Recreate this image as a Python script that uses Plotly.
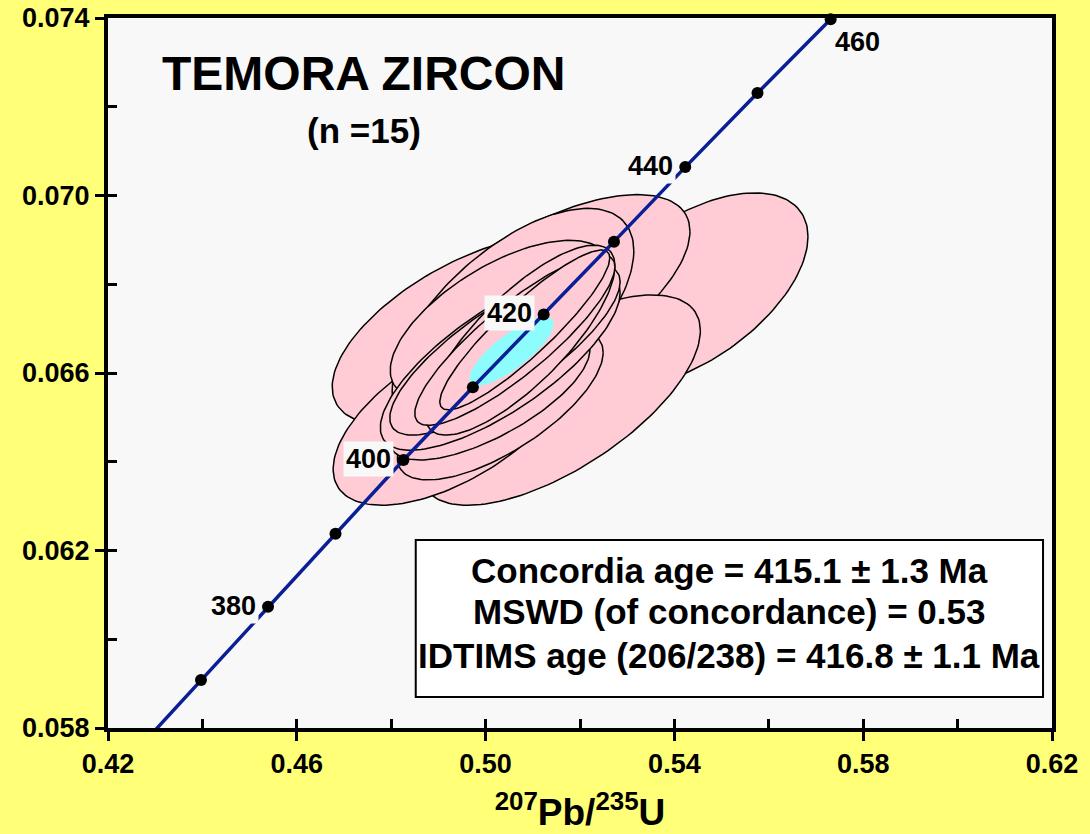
import numpy as np
import plotly.graph_objects as go

# ---------------- data ----------------
# concordia curve vertices (age in Ma, 207Pb/235U, 206Pb/238U)
curve_age = [360, 370, 380, 390, 400, 410, 420, 430, 440, 450, 460]
curve_x = [0.4255, 0.4397, 0.4539, 0.4682, 0.4826, 0.4973, 0.5123, 0.5272, 0.5423, 0.5576, 0.5731]
curve_y = [0.05743, 0.05908, 0.06073, 0.06238, 0.06404, 0.06568, 0.06732, 0.06896, 0.07064, 0.07231, 0.07397]
# age marks drawn as dots (370..460)
mark_age = [370, 380, 390, 400, 410, 420, 430, 440, 450, 460]
labeled_ages = [380, 400, 420, 440, 460]

# error ellipses (2 sigma): centre, half-extent in x and y, correlation (drawing order)
ell_x = [0.5433, 0.5115, 0.4967, 0.5158, 0.4935, 0.5058, 0.5031, 0.5020, 0.5031, 0.5009, 0.5031, 0.5041, 0.5073, 0.5062, 0.5083]
ell_y = [0.06787, 0.06765, 0.06697, 0.06539, 0.06505, 0.06719, 0.06719, 0.06573, 0.06528, 0.06550, 0.06629, 0.06652, 0.06674, 0.06674, 0.06697]
ell_sx = [0.0250, 0.0318, 0.0292, 0.0297, 0.0258, 0.0256, 0.0233, 0.0212, 0.0218, 0.0212, 0.0254, 0.0244, 0.0201, 0.0212, 0.0180]
ell_sy = [0.00219, 0.00237, 0.00214, 0.00237, 0.00203, 0.00252, 0.00180, 0.00180, 0.00169, 0.00146, 0.00203, 0.00192, 0.00214, 0.00192, 0.00180]
ell_rho = [0.55, 0.65, 0.60, 0.66, 0.60, 0.62, 0.63, 0.70, 0.70, 0.70, 0.75, 0.80, 0.78, 0.86, 0.90]

# concordia age ellipse
conc_x, conc_y, conc_sx, conc_sy, conc_rho = 0.5055, 0.06649, 0.0089, 0.00077, 0.80

x_ticks = [0.42, 0.46, 0.50, 0.54, 0.58, 0.62]
y_ticks = [0.058, 0.062, 0.066, 0.070, 0.074]

title_text = "TEMORA ZIRCON"
subtitle_text = "(n =15)"
box_lines = ["Concordia age = 415.1 ± 1.3 Ma",
             "MSWD (of concordance) = 0.53",
             "IDTIMS age (206/238) = 416.8 ± 1.1 Ma"]

# ---------------- styles ----------------
YELLOW = "#FFFF78"
PLOTBG = "#F8F8F8"
PINK = "#FFCCD6"
CYAN = "#8CFCFC"
NAVY = "#0A1E96"
FONT = "Arial"


def ellipse(cx, cy, sx, sy, rho, n=160):
    t = np.linspace(0, 2 * np.pi, n)
    xs = cx + sx * np.cos(t)
    ys = cy + sy * (rho * np.cos(t) + np.sqrt(1 - rho ** 2) * np.sin(t))
    return xs, ys


fig = go.Figure()

for cx, cy, sx, sy, r in zip(ell_x, ell_y, ell_sx, ell_sy, ell_rho):
    xs, ys = ellipse(cx, cy, sx, sy, r)
    fig.add_trace(go.Scatter(x=xs, y=ys, mode="lines", fill="toself",
                             fillcolor=PINK, line=dict(color="black", width=1.5),
                             hoverinfo="skip", showlegend=False))

xs, ys = ellipse(conc_x, conc_y, conc_sx, conc_sy, conc_rho)
fig.add_trace(go.Scatter(x=xs, y=ys, mode="lines", fill="toself",
                         fillcolor=CYAN, line=dict(color=CYAN, width=0.5),
                         hoverinfo="skip", showlegend=False))

fig.add_trace(go.Scatter(x=curve_x, y=curve_y, mode="lines",
                         line=dict(color=NAVY, width=3.5), showlegend=False,
                         hoverinfo="skip"))

mx = [curve_x[curve_age.index(a)] for a in mark_age]
my = [curve_y[curve_age.index(a)] for a in mark_age]
fig.add_trace(go.Scatter(x=mx, y=my, mode="markers",
                         marker=dict(color="black", size=12), cliponaxis=False,
                         showlegend=False, hoverinfo="skip"))

# invisible trace for the overlay (inside-tick) axes
fig.add_trace(go.Scatter(x=[x_ticks[0]], y=[y_ticks[0]], xaxis="x2", yaxis="y2",
                         mode="markers", marker=dict(opacity=0), showlegend=False,
                         hoverinfo="skip"))

annotations = []
for a in labeled_ages:
    i = curve_age.index(a)
    if a == 460:
        annotations.append(dict(x=curve_x[i], y=curve_y[i], xref="x", yref="y",
                                text=str(a), showarrow=False, xanchor="left",
                                yanchor="middle", xshift=2, yshift=-23,
                                font=dict(family=FONT, size=27, color="black", weight="bold")))
    else:
        annotations.append(dict(x=curve_x[i], y=curve_y[i], xref="x", yref="y",
                                text=str(a), showarrow=False, xanchor="right",
                                yanchor="middle", xshift=-9, yshift=1,
                                bgcolor=PLOTBG, borderpad=2,
                                font=dict(family=FONT, size=27, color="black", weight="bold")))

annotations.append(dict(x=0.271, y=0.9225, xref="paper", yref="paper", text=title_text,
                        showarrow=False, xanchor="center", yanchor="middle",
                        font=dict(family=FONT, size=48, color="black", weight="bold")))
annotations.append(dict(x=0.271, y=0.841, xref="paper", yref="paper", text=subtitle_text,
                        showarrow=False, xanchor="center", yanchor="middle",
                        font=dict(family=FONT, size=35, color="black", weight="bold")))
for yy, line in zip([0.2225, 0.1634, 0.1028], box_lines):
    annotations.append(dict(x=0.658, y=yy, xref="paper", yref="paper", text=line,
                            showarrow=False, xanchor="center", yanchor="middle",
                            font=dict(family=FONT, size=35, color="black", weight="bold")))

shapes = [dict(type="rect", xref="paper", yref="paper", x0=0.326, x1=0.9905,
               y0=0.0437, y1=0.2648, fillcolor="white",
               line=dict(color="black", width=2), layer="below")]

tickfont = dict(family=FONT, size=27, color="black", weight="bold")

fig.update_layout(
    width=1090, height=834,
    margin=dict(l=108, r=38, t=18, b=106),
    paper_bgcolor=YELLOW, plot_bgcolor=PLOTBG,
    showlegend=False,
    annotations=annotations,
    shapes=shapes,
    xaxis=dict(range=[0.42, 0.62], tickvals=x_ticks, ticktext=[f"{v:.2f}" for v in x_ticks],
               ticks="outside", ticklen=9, tickwidth=3, tickcolor="black",
               showline=True, linewidth=4, linecolor="black", mirror=True,
               showgrid=False, zeroline=False, tickfont=tickfont, automargin=False,
               title=dict(text="<sup>207</sup>Pb/<sup>235</sup>U", standoff=22,
                          font=dict(family=FONT, size=37, color="black", weight="bold"))),
    yaxis=dict(range=[0.058, 0.074], tickvals=y_ticks, ticktext=[f"{v:.3f}" for v in y_ticks],
               ticks="outside", ticklen=9, tickwidth=3, tickcolor="black",
               showline=True, linewidth=4, linecolor="black", mirror=True,
               showgrid=False, zeroline=False, tickfont=tickfont, automargin=False),
    xaxis2=dict(range=[0.42, 0.62], overlaying="x", anchor="y", side="bottom",
                dtick=0.02, tick0=0.42, ticks="inside", ticklen=9, tickwidth=3,
                tickcolor="black", showticklabels=False, showgrid=False,
                zeroline=False, showline=False, automargin=False),
    yaxis2=dict(range=[0.058, 0.074], overlaying="y", anchor="x", side="left",
                dtick=0.002, tick0=0.058, ticks="inside", ticklen=9, tickwidth=3,
                tickcolor="black", showticklabels=False, showgrid=False,
                zeroline=False, showline=False, automargin=False),
)

fig.write_html("out.html", config={"displayModeBar": False},
               post_script="document.body.style.margin='0';document.body.style.overflow='hidden';")
